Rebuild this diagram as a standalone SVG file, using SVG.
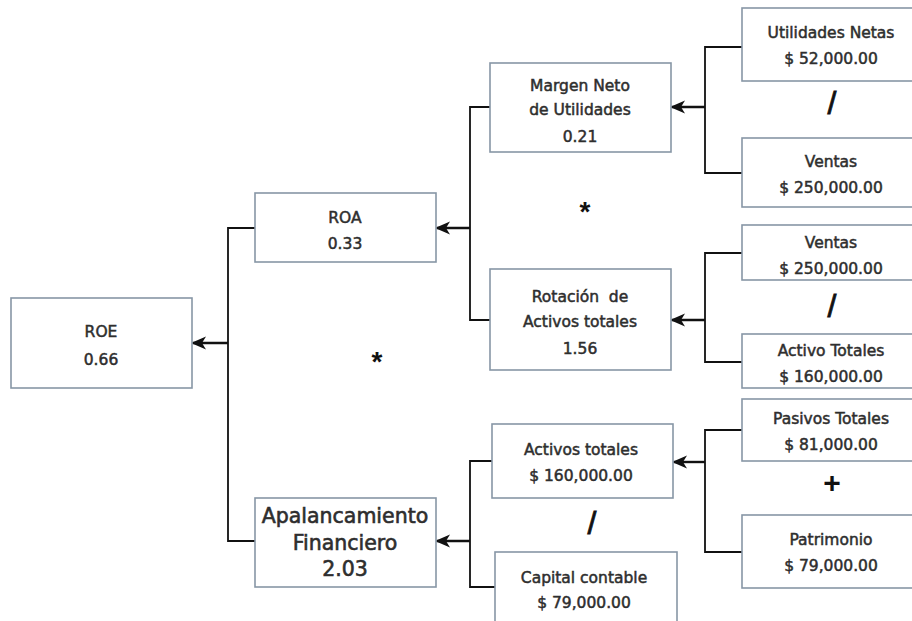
<svg xmlns="http://www.w3.org/2000/svg" width="912" height="621" viewBox="0 0 912 621">
<style>
.box{fill:#ffffff;stroke:#8796a6;stroke-width:1.6}
.t{font-family:"DejaVu Sans","Liberation Sans",sans-serif;font-size:15.5px;fill:#2e2e2e;text-anchor:middle;stroke:#2e2e2e;stroke-width:0.5}
.big{font-size:20.5px;stroke-width:0.6}
.op{font-family:"Liberation Sans",sans-serif;fill:#111;text-anchor:middle}
.c{fill:none;stroke:#111;stroke-width:1.8}
.a{fill:none;stroke:#111;stroke-width:2.4;marker-end:url(#ah)}
</style>
<defs>
<marker id="ah" markerUnits="userSpaceOnUse" markerWidth="16" markerHeight="16" refX="13" refY="8" orient="auto">
<path d="M0,1.5 L15,8 L0,14.5 L4,8 Z" fill="#111"/>
</marker>
</defs>
<rect width="912" height="621" fill="#ffffff"/>
<g id="connectors">
<path class="c" d="M255,228 H228 V541 H255"/>
<path class="a" d="M228,343 H193"/>
<path class="c" d="M490,107 H470 V320 H490"/>
<path class="a" d="M470,228 H437"/>
<path class="c" d="M742,47 H705 V173 H742"/>
<path class="a" d="M705,107 H672"/>
<path class="c" d="M742,253 H705 V362 H742"/>
<path class="a" d="M705,320 H672"/>
<path class="c" d="M742,430 H705 V552 H742"/>
<path class="a" d="M705,462 H674"/>
<path class="c" d="M492,461 H470 V587 H495"/>
<path class="a" d="M470,541 H437"/>
</g>
<g id="roe">
<rect class="box" x="11" y="298" width="181" height="90"/>
<text class="t" x="101" y="337">ROE</text>
<text class="t" x="101" y="365">0.66</text>
</g>
<g id="roa">
<rect class="box" x="255" y="193" width="181" height="69"/>
<text class="t" x="345" y="223">ROA</text>
<text class="t" x="345" y="249">0.33</text>
</g>
<g id="margen">
<rect class="box" x="490" y="63" width="181" height="89"/>
<text class="t" x="580" y="91">Margen Neto</text>
<text class="t" x="580" y="115">de Utilidades</text>
<text class="t" x="580" y="142">0.21</text>
</g>
<g id="rotacion">
<rect class="box" x="490" y="269" width="181" height="101"/>
<text class="t" x="580" y="302" xml:space="preserve">Rotación  de</text>
<text class="t" x="580" y="327">Activos totales</text>
<text class="t" x="580" y="354">1.56</text>
</g>
<g id="utilidades">
<rect class="box" x="742" y="8" width="190" height="73"/>
<text class="t" x="831" y="38">Utilidades Netas</text>
<text class="t" x="831" y="64">$ 52,000.00</text>
</g>
<g id="ventas1">
<rect class="box" x="742" y="138" width="190" height="69"/>
<text class="t" x="831" y="167">Ventas</text>
<text class="t" x="831" y="193">$ 250,000.00</text>
</g>
<g id="ventas2">
<rect class="box" x="742" y="225" width="190" height="55"/>
<text class="t" x="831" y="248">Ventas</text>
<text class="t" x="831" y="274">$ 250,000.00</text>
</g>
<g id="activo-totales">
<rect class="box" x="742" y="334" width="190" height="54"/>
<text class="t" x="831" y="356">Activo Totales</text>
<text class="t" x="831" y="382">$ 160,000.00</text>
</g>
<g id="pasivos">
<rect class="box" x="742" y="399" width="190" height="62"/>
<text class="t" x="831" y="424">Pasivos Totales</text>
<text class="t" x="831" y="450">$ 81,000.00</text>
</g>
<g id="patrimonio">
<rect class="box" x="742" y="515" width="190" height="73"/>
<text class="t" x="831" y="545">Patrimonio</text>
<text class="t" x="831" y="571">$ 79,000.00</text>
</g>
<g id="activos-totales">
<rect class="box" x="492" y="424" width="181" height="74"/>
<text class="t" x="581" y="455">Activos totales</text>
<text class="t" x="581" y="481">$ 160,000.00</text>
</g>
<g id="capital">
<rect class="box" x="495" y="552" width="182" height="70"/>
<text class="t" x="584" y="583">Capital contable</text>
<text class="t" x="584" y="608">$ 79,000.00</text>
</g>
<g id="apalancamiento">
<rect class="box" x="255" y="498" width="181" height="89"/>
<text class="t big" x="345" y="523">Apalancamiento</text>
<text class="t big" x="345" y="550">Financiero</text>
<text class="t big" x="345" y="576">2.03</text>
</g>
<g id="operators">
<text class="op" x="832" y="114" font-size="32" stroke="#111" stroke-width="0.8">/</text>
<text class="op" x="832" y="317" font-size="32" stroke="#111" stroke-width="0.8">/</text>
<text class="op" x="592" y="534" font-size="32" stroke="#111" stroke-width="0.8">/</text>
<text class="op" x="585" y="221" font-size="28" font-weight="bold">*</text>
<text class="op" x="377" y="371" font-size="28" font-weight="bold">*</text>
<text class="op" x="832" y="493" font-size="30" font-weight="bold">+</text>
</g>
</svg>
